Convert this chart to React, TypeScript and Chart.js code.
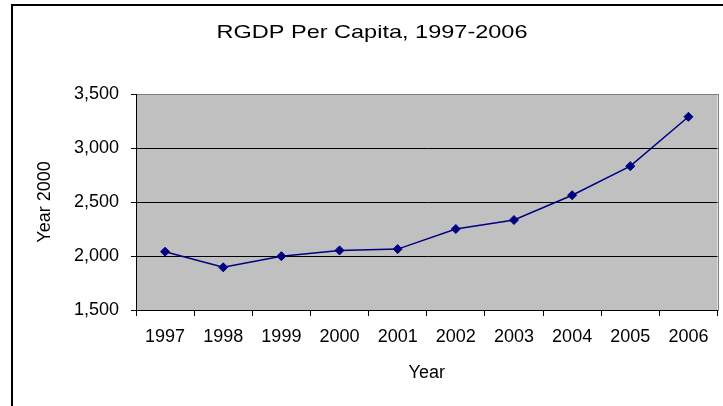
import React, { useEffect, useRef } from "react";
import { Chart, registerables } from "chart.js";

Chart.register(...registerables);

const years: string[] = ["1997", "1998", "1999", "2000", "2001", "2002", "2003", "2004", "2005", "2006"];
const rgdpPerCapita: number[] = [2040, 1895, 1998, 2052, 2064, 2250, 2333, 2563, 2832, 3289];
const chartTitle = "RGDP Per Capita, 1997-2006";
const xAxisTitle = "Year";
const yAxisTitle = "Year 2000";
const yMin = 1500;
const yMax = 3500;
const yStep = 500;

const FONT = '"Liberation Sans", Arial, sans-serif';

const framePlugin = {
  id: "frame",
  beforeDraw(chart: any) {
    const { ctx, chartArea } = chart;
    const { left, top, right, bottom } = chartArea;
    ctx.save();
    // outer chart frame
    ctx.fillStyle = "#000";
    ctx.fillRect(11, 4, 2, chart.height);
    ctx.fillRect(11, 4, chart.width, 2);
    // plot area background
    ctx.fillStyle = "#C0C0C0";
    ctx.fillRect(left, top, right - left, bottom - top);
    // plot area border (gray)
    ctx.strokeStyle = "#808080";
    ctx.lineWidth = 1;
    ctx.strokeRect(Math.round(left) + 0.5, Math.round(top) + 0.5, Math.round(right - left), Math.round(bottom - top));
    ctx.restore();
  },
  afterDraw(chart: any) {
    const { ctx } = chart;
    ctx.save();
    ctx.font = `19px ${FONT}`;
    ctx.fillStyle = "#000";
    ctx.textBaseline = "alphabetic";
    ctx.textAlign = "center";
    const w = ctx.measureText(chartTitle).width;
    const sx = 311 / w;
    ctx.translate(372, 37.5);
    ctx.scale(sx, 1);
    ctx.fillText(chartTitle, 0, 0);
    ctx.restore();
  },
};

export default function App() {
  const ref = useRef<HTMLCanvasElement | null>(null);

  useEffect(() => {
    if (!ref.current) return;
    const chart = new Chart(ref.current, {
      type: "line",
      data: {
        labels: years,
        datasets: [
          {
            label: "RGDP Per Capita",
            data: rgdpPerCapita,
            borderColor: "#000080",
            backgroundColor: "#000080",
            borderWidth: 1.5,
            pointStyle: "rectRot",
            pointRadius: 4.5,
            pointBorderWidth: 1,
            pointBackgroundColor: "#000080",
            pointBorderColor: "#000080",
            tension: 0,
          },
        ],
      },
      options: {
        responsive: false,
        animation: false,
        layout: { padding: { top: 94, right: 5, left: 0, bottom: 0 } },
        plugins: {
          legend: { display: false },
          title: { display: false },
          tooltip: { enabled: false },
        },
        scales: {
          x: {
            type: "category",
            offset: true,
            afterFit: (s: any) => {
              s.height = 96;
            },
            grid: {
              offset: true,
              drawOnChartArea: false,
              drawTicks: true,
              tickLength: 6,
              tickColor: "#000",
            },
            border: { color: "#000", width: 1 },
            ticks: {
              color: "#000",
              padding: 10,
              maxRotation: 0,
              autoSkip: false,
              font: { family: FONT, size: 18 },
            },
            title: {
              display: true,
              text: xAxisTitle,
              color: "#000",
              font: { family: FONT, size: 18 },
              padding: { top: 0, bottom: 22 },
            },
          },
          y: {
            min: yMin,
            max: yMax,
            afterFit: (s: any) => {
              s.width = 136;
            },
            grid: {
              color: (c: any) => (c.tick && c.tick.value === yMax ? "#808080" : "#000"),
              tickColor: "#000",
              tickLength: 5,
              lineWidth: 1,
            },
            border: { color: "#000", width: 1 },
            ticks: {
              stepSize: yStep,
              color: "#000",
              padding: 12,
              font: { family: FONT, size: 18 },
              callback: (v: any) => Number(v).toLocaleString("en-US"),
            },
            title: {
              display: true,
              text: yAxisTitle,
              color: "#000",
              font: { family: FONT, size: 18 },
              padding: { top: 34, bottom: 0 },
            },
          },
        },
      },
      plugins: [framePlugin],
    });
    return () => chart.destroy();
  }, []);

  return (
    <div style={{ position: "fixed", left: 0, top: 0, width: 723, height: 406, background: "#fff" }}>
      <canvas ref={ref} width={723} height={406} style={{ display: "block" }} />
    </div>
  );
}
